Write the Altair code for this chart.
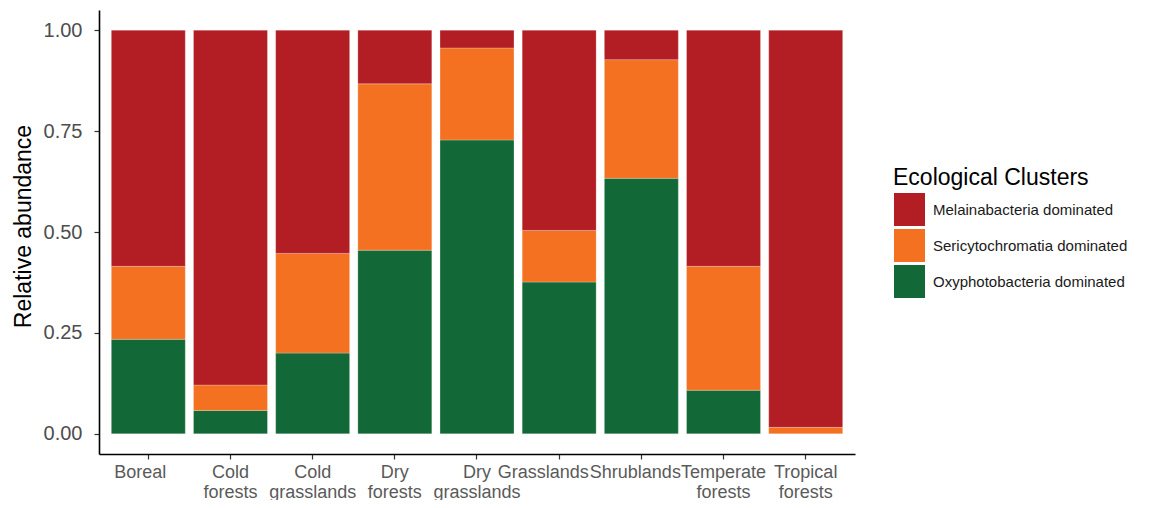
import altair as alt
import pandas as pd

biomes = ["Boreal", "Cold forests", "Cold grasslands", "Dry forests", "Dry grasslands",
          "Grasslands", "Shrublands", "Temperate forests", "Tropical forests"]
oxy = [0.234, 0.058, 0.200, 0.455, 0.728, 0.376, 0.633, 0.108, 0.000]
seri = [0.181, 0.063, 0.247, 0.412, 0.228, 0.128, 0.294, 0.307, 0.016]
mela = [0.585, 0.879, 0.553, 0.133, 0.044, 0.496, 0.073, 0.585, 0.984]

clusters = ["Melainabacteria  dominated", "Sericytochromatia dominated", "Oxyphotobacteria  dominated"]
colors = ["#B21E24", "#F37121", "#126937"]

rows = []
for i, b in enumerate(biomes):
    rows.append({"biome": b, "cluster": clusters[2], "value": oxy[i], "rank": 0})
    rows.append({"biome": b, "cluster": clusters[1], "value": seri[i], "rank": 1})
    rows.append({"biome": b, "cluster": clusters[0], "value": mela[i], "rank": 2})
df = pd.DataFrame(rows)

FONT = "Liberation Sans"

label_shift = {
    "condition": [
        {"test": "datum.value == 'Boreal'", "value": -8},
        {"test": "datum.value == 'Grasslands'", "value": -16},
        {"test": "datum.value == 'Shrublands'", "value": -6},
    ],
    "value": 0,
}

chart = alt.Chart(df).mark_bar(stroke="white", strokeWidth=0.4, strokeOpacity=0.6).encode(
    x=alt.X("biome:N", sort=biomes,
            scale=alt.Scale(paddingInner=0.1, paddingOuter=0.15),
            axis=alt.Axis(title=None, labelAngle=0, labelExpr="split(datum.label, ' ')",
                          labelFontSize=18, labelColor="#5a5a5a", labelFont=FONT,
                          labelLineHeight=20, labelPadding=4, labelBaseline="top",
                          labelOffset=label_shift,
                          tickSize=5, tickColor="#333333", tickWidth=1.2,
                          domainColor="#000000", domainWidth=1.6)),
    y=alt.Y("value:Q", stack="zero",
            scale=alt.Scale(domain=[-0.05, 1.05], nice=False, zero=False),
            axis=alt.Axis(title="Relative abundance", values=[0, 0.25, 0.5, 0.75, 1.0], format=".2f",
                          labelFontSize=20, labelColor="#4d4d4d", labelFont=FONT, labelPadding=12,
                          titleFontSize=23, titleFont=FONT, titleFontWeight="normal", titleColor="#000000",
                          titlePadding=8, titleY=216, tickSize=5, tickColor="#333333", tickWidth=1.2,
                          domainColor="#000000", domainWidth=1.6, grid=False)),
    color=alt.Color("cluster:N",
                    scale=alt.Scale(domain=clusters, range=colors),
                    legend=alt.Legend(title="Ecological Clusters", orient="none",
                                      legendX=794, legendY=157,
                                      titleFontSize=23, titleFont=FONT, titleFontWeight="normal",
                                      titleColor="#000000", titlePadding=3, titleLimit=400,
                                      labelFontSize=15, labelFont=FONT, labelColor="#1a1a1a",
                                      labelOffset=7, labelLimit=400, padding=0, rowPadding=3,
                                      symbolType="M-0.94,-1H0.94V1H-0.94Z", symbolSize=1089,
                                      symbolStrokeWidth=0, symbolOpacity=1)),
    order=alt.Order("rank:Q", sort="ascending"),
).properties(
    width=756, height=444,
    autosize=alt.AutoSizeParams(type="none"),
    padding={"left": 91, "top": 2, "right": 305, "bottom": 46},
).configure(font=FONT).configure_view(stroke=None, strokeWidth=0)

chart.save("out.html", embed_options={"renderer": "svg", "actions": False})
